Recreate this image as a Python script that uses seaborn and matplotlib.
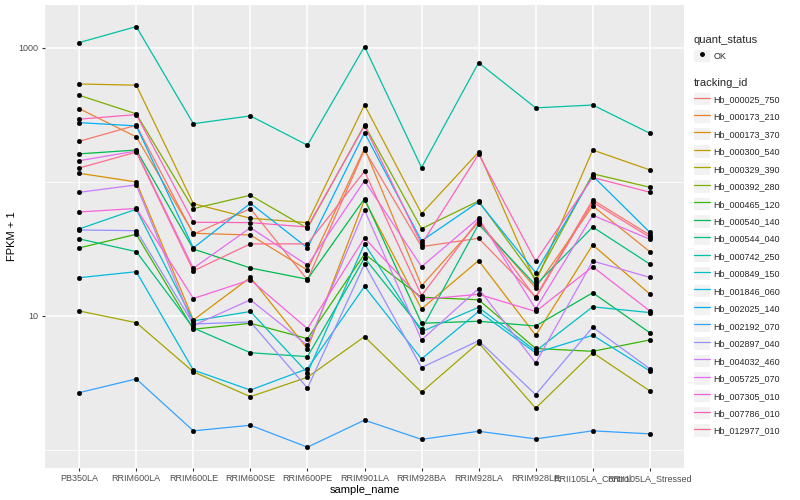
import matplotlib
matplotlib.use('Agg')
import numpy as np
import pandas as pd
import matplotlib.pyplot as plt
import seaborn as sns
from matplotlib.lines import Line2D
from matplotlib.patches import Patch
from matplotlib.legend_handler import HandlerTuple
from matplotlib.ticker import NullFormatter, FixedLocator

# sample order on the x axis
samples = ['PB350LA', 'RRIM600LA', 'RRIM600LE', 'RRIM600SE', 'RRIM600PE', 'RRIM901LA',
           'RRIM928BA', 'RRIM928LA', 'RRIM928LE', 'RRII105LA_Control', 'RRII105LA_Stressed']

# FPKM + 1 per gene, one value per sample
hb_000025_750 = [201, 265, 40.7, 63.2, 18.6, 173, 32.9, 38.0, 13.9, 73.4, 40.2]
hb_000173_210 = [352, 217, 41.4, 40.2, 22.0, 178, 16.8, 50.0, 16.2, 66.2, 30.2]
hb_000173_370 = [116, 100, 9.33, 19.4, 5.70, 73.4, 11.3, 25.9, 7.18, 33.9, 14.6]
hb_000300_540 = [538, 527, 68.9, 53.6, 49.7, 375, 58.0, 167, 17.8, 173, 123]
hb_000329_390 = [10.9, 8.91, 3.83, 2.50, 3.49, 7.01, 2.70, 6.32, 2.05, 5.32, 2.76]
hb_000392_280 = [443, 322, 63.2, 79.6, 45.1, 266, 44.8, 72.1, 18.8, 115, 91.3]
hb_000465_120 = [32.2, 40.7, 7.96, 8.82, 6.77, 29.0, 13.8, 13.2, 5.72, 5.45, 6.62]
hb_000540_140 = [162, 173, 31.6, 22.8, 18.8, 75.0, 8.82, 9.13, 8.42, 14.9, 7.50]
hb_000544_040 = [37.6, 30.2, 8.14, 5.32, 4.97, 27.1, 7.96, 48.3, 17.0, 46.1, 24.4]
hb_000742_250 = [1096, 1442, 272, 311, 188, 1023, 128, 776, 357, 375, 231]
hb_000849_150 = [44.6, 62.6, 9.18, 10.8, 3.77, 34.5, 7.64, 11.6, 5.48, 11.7, 10.6]
hb_001846_060 = [19.3, 21.4, 3.95, 2.80, 4.04, 16.6, 4.78, 10.8, 5.30, 7.18, 3.89]
hb_002025_140 = [277, 262, 32.2, 69.3, 32.2, 233, 36.3, 70.9, 21.1, 111, 42.1]
hb_002192_070 = [2.68, 3.39, 1.39, 1.53, 1.05, 1.67, 1.20, 1.38, 1.21, 1.39, 1.32]
hb_002897_040 = [43.8, 43.3, 8.71, 9.02, 2.90, 24.4, 4.12, 6.54, 2.59, 8.24, 4.04]
hb_004032_460 = [83.7, 95.0, 8.49, 13.2, 6.04, 61.8, 6.62, 16.0, 4.46, 25.7, 19.4]
hb_005725_070 = [144, 170, 22.7, 45.6, 23.9, 102, 23.3, 53.6, 11.3, 56.4, 37.4]
hb_007305_010 = [59.7, 63.4, 13.5, 18.6, 8.04, 38.2, 13.3, 14.5, 10.8, 23.3, 10.9]
hb_007786_010 = [294, 318, 50.0, 49.7, 46.1, 262, 34.3, 161, 25.6, 108, 83.8]
hb_012977_010 = [127, 167, 21.7, 34.5, 34.5, 120, 14.2, 52.0, 13.6, 70.6, 38.7]

series = {
    'Hb_000025_750': hb_000025_750, 'Hb_000173_210': hb_000173_210,
    'Hb_000173_370': hb_000173_370, 'Hb_000300_540': hb_000300_540,
    'Hb_000329_390': hb_000329_390, 'Hb_000392_280': hb_000392_280,
    'Hb_000465_120': hb_000465_120, 'Hb_000540_140': hb_000540_140,
    'Hb_000544_040': hb_000544_040, 'Hb_000742_250': hb_000742_250,
    'Hb_000849_150': hb_000849_150, 'Hb_001846_060': hb_001846_060,
    'Hb_002025_140': hb_002025_140, 'Hb_002192_070': hb_002192_070,
    'Hb_002897_040': hb_002897_040, 'Hb_004032_460': hb_004032_460,
    'Hb_005725_070': hb_005725_070, 'Hb_007305_010': hb_007305_010,
    'Hb_007786_010': hb_007786_010, 'Hb_012977_010': hb_012977_010,
}
tracking_ids = list(series.keys())

# ggplot default hue palette for 20 levels
hue_colors = ['#F8766D', '#EA8331', '#D89000', '#C09B00', '#A3A500', '#7CAE00', '#39B600',
              '#00BB4E', '#00BF7D', '#00C1A3', '#00BFC4', '#00BAE0', '#00B0F6', '#35A2FF',
              '#9590FF', '#C77CFF', '#E76BF3', '#FA62DB', '#FF62BC', '#FF6C91']

rows = []
for tid in tracking_ids:
    for s, v in zip(samples, series[tid]):
        rows.append({'tracking_id': tid, 'sample_name': s, 'fpkm1': v, 'quant_status': 'OK'})
df = pd.DataFrame(rows)
df['sample_name'] = pd.Categorical(df['sample_name'], categories=samples, ordered=True)
df['xpos'] = df['sample_name'].cat.codes

sns.set_style('darkgrid')
plt.rcParams['font.family'] = ['Liberation Sans', 'DejaVu Sans']

fig = plt.figure(figsize=(8, 5), dpi=100)
ax = fig.add_axes([45/800, 1-468/500, (684-45)/800, (468-5)/500])
ax.set_facecolor('#EBEBEB')

palette = dict(zip(tracking_ids, hue_colors))
sns.lineplot(data=df, x='xpos', y='fpkm1', hue='tracking_id', palette=palette,
             linewidth=0.9, legend=False, ax=ax, sort=True, estimator=None)
sns.scatterplot(data=df, x='xpos', y='fpkm1', color='black', s=11, edgecolor='black',
                linewidth=0.3, legend=False, ax=ax, zorder=5)

ax.set_yscale('log')
ax.set_ylim(0.734, 2090)
ax.set_xlim(-0.6, 10.6)
ax.yaxis.set_major_locator(FixedLocator([10, 1000]))
ax.yaxis.set_minor_locator(FixedLocator([1, 100]))
ax.yaxis.set_minor_formatter(NullFormatter())
ax.set_yticklabels(['10', '1000'])
ax.set_xticks(range(len(samples)))
ax.set_xticklabels(samples)

ax.grid(which='major', color='white', linewidth=1.1)
ax.grid(which='minor', axis='y', color='white', linewidth=0.55)
ax.set_axisbelow(True)
for sp in ax.spines.values():
    sp.set_visible(False)
ax.tick_params(which='major', length=2.5, width=0.8, color='#333333',
               labelsize=6.5, labelcolor='#4D4D4D', pad=2)
ax.tick_params(which='minor', length=0)
ax.tick_params(axis='x', bottom=True)
ax.tick_params(axis='y', left=True)

ax.set_xlabel('sample_name', fontsize=8, color='black', labelpad=1)
ax.set_ylabel('FPKM + 1', fontsize=8, color='black', labelpad=1)

# legends in ggplot style
key_bg = '#F2F2F2'
q_handles = [(Patch(facecolor=key_bg, edgecolor='none'),
              Line2D([], [], marker='o', color='none', markerfacecolor='black',
                     markeredgecolor='black', markersize=2.5))]
leg1 = fig.legend(q_handles, ['OK'], title='quant_status', loc='upper left',
                  bbox_to_anchor=(694/800, 1-35/500), frameon=False, fontsize=6.5,
                  title_fontsize=8, handlelength=1.75, handleheight=1.75,
                  handletextpad=0.4, borderpad=0, borderaxespad=0, alignment='left',
                  handler_map={tuple: HandlerTuple(ndivide=1)})
t_handles = [(Patch(facecolor=key_bg, edgecolor='none'),
              Line2D([], [], color=palette[t], linewidth=0.9)) for t in tracking_ids]
leg2 = fig.legend(t_handles, tracking_ids, title='tracking_id', loc='upper left',
                  bbox_to_anchor=(694/800, 1-78/500), frameon=False, fontsize=6.5,
                  title_fontsize=8, handlelength=1.75, handleheight=1.75,
                  labelspacing=0.55, handletextpad=0.4, borderpad=0, borderaxespad=0,
                  alignment='left', handler_map={tuple: HandlerTuple(ndivide=1)})

fig.savefig('out.png', dpi=100)
